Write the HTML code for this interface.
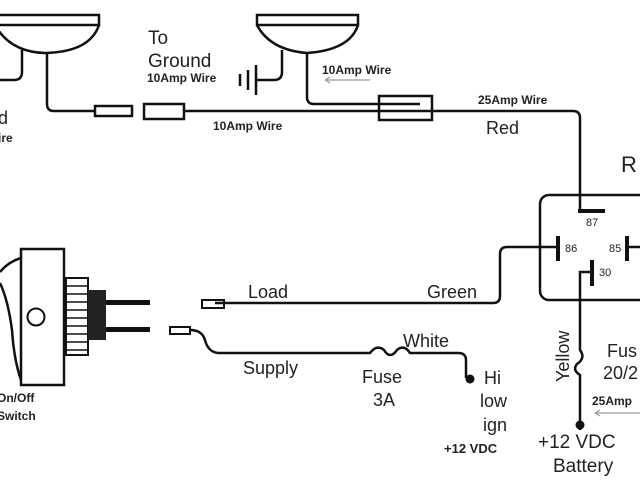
<!DOCTYPE html>
<html><head><style>
html,body{margin:0;padding:0;background:#fff;}
svg{display:block;}
text{font-family:"Liberation Sans",sans-serif;fill:#222;}
.b{font-weight:bold;font-size:12px;}
.m{font-size:18px;}
</style></head><body>
<svg width="640" height="480" viewBox="0 0 640 480" xmlns="http://www.w3.org/2000/svg">
<g fill="none" stroke="#111" stroke-width="2.5">
<!-- left lamp -->
<rect x="-5" y="15" width="104" height="10"/>
<path d="M-5 25 Q10 52 45 53 Q90 52 99 25"/>
<path d="M22 50 V72 Q22 80 14 80 H0"/>
<path d="M47 53 V104 Q47 111 54 111 H95"/>
<rect x="95" y="106" width="37" height="10"/>
<rect x="144" y="104" width="40" height="15"/>
<!-- right lamp -->
<rect x="257" y="15" width="101" height="10"/>
<path d="M257 25 Q270 50 307 53 Q350 50 358 25"/>
<path d="M282 50 V72 Q282 80 274 80 H256"/>
<path d="M307 53 V97 Q307 104 314 104 H420"/>
<rect x="379" y="96" width="53" height="24"/>
<path d="M184 111 H573 Q580 111 580 118 V211"/>
<!-- relay -->
<rect x="540" y="195" width="110" height="105" rx="9"/>
<path d="M215 303 H493 Q500 303 500 296 V254 Q500 247 507 247 H556"/>
<path d="M580 430 V375 Q572 370 577 364 Q586 358 580 350 V272 H590"/>
<path d="M627 247 H645"/>
<!-- supply -->
<path d="M190 330 Q202 330 205 340 Q208 352 218 353 H370 Q377 344 384 350 Q390 360 397 350 Q404 344 410 353 H458 Q466 353 466 360 V378"/>
<!-- switch -->
<rect x="21" y="249" width="43" height="136"/>
<path d="M21 258 Q8 262 0 272"/>
<path d="M0 283 Q8 300 12 330 Q14 360 21 380"/>
<circle cx="36" cy="317" r="8.5" stroke-width="2"/>
<rect x="66" y="278" width="22" height="77" stroke-width="2"/>
<rect x="202" y="300" width="22" height="8" stroke-width="2"/>
<rect x="170" y="327" width="20" height="7" stroke-width="2"/>
</g>
<g stroke="#111" stroke-width="1.5">
<path d="M66 286 H88 M66 294 H88 M66 302 H88 M66 310 H88 M66 318 H88 M66 326 H88 M66 334 H88 M66 342 H88 M66 350 H88"/>
</g>
<rect x="88" y="290" width="18" height="50" fill="#222"/>
<rect x="106" y="300" width="44" height="5" fill="#111"/>
<rect x="106" y="327" width="44" height="5" fill="#111"/>
<!-- ground symbol -->
<g stroke="#111" stroke-width="2.5">
<path d="M256 65 V95 M248 70 V90 M240 74 V86"/>
<path d="M578 211 H605" stroke-width="4"/>
<path d="M558 236 V261 M627 236 V261 M592 260 V286" stroke-width="4"/>
<path d="M388 104 H420" stroke-width="1.5"/>
</g>
<circle cx="470" cy="379" r="4.5" fill="#111"/>
<circle cx="580" cy="425" r="4.5" fill="#111"/>
<g stroke="#999" stroke-width="1.2">
<path d="M325 80 H370"/><path d="M325 80 l5 -3 M325 80 l5 3"/>
<path d="M595 413 H640"/><path d="M595 413 l5 -3 M595 413 l5 3"/>
</g>
<!-- texts -->
<text x="148" y="44" font-size="19">To</text>
<text x="148" y="67" font-size="19">Ground</text>
<text x="147" y="82" class="b">10Amp Wire</text>
<text x="322" y="74" class="b">10Amp Wire</text>
<text x="213" y="130" class="b">10Amp Wire</text>
<text x="478" y="104" class="b">25Amp Wire</text>
<text x="486" y="134" class="m">Red</text>
<text x="621" y="172" font-size="22">R</text>
<text x="586" y="226" font-size="11">87</text>
<text x="565" y="252" font-size="11">86</text>
<text x="609" y="252" font-size="11">85</text>
<text x="599" y="276" font-size="11">30</text>
<text x="-2" y="124" font-size="18">d</text>
<text x="-2" y="142" class="b">ire</text>
<text x="248" y="298" class="m">Load</text>
<text x="427" y="298" class="m">Green</text>
<text x="243" y="374" class="m">Supply</text>
<text x="403" y="347" class="m">White</text>
<text x="362" y="383" class="m">Fuse</text>
<text x="373" y="406" class="m">3A</text>
<text x="484" y="384" class="m">Hi</text>
<text x="480" y="407" class="m">low</text>
<text x="483" y="431" class="m">ign</text>
<text x="444" y="453" class="b" font-size="13" style="font-size:13px">+12 VDC</text>
<text x="0" y="0" class="m" transform="translate(569,382) rotate(-90)">Yellow</text>
<text x="607" y="357" class="m">Fus</text>
<text x="603" y="379" class="m">20/2</text>
<text x="592" y="405" class="b">25Amp</text>
<text x="538" y="448" font-size="19">+12 VDC</text>
<text x="553" y="472" font-size="19">Battery</text>
<text x="-3" y="378" class="b" transform="translate(0,24)">On/Off</text>
<text x="-3" y="420" class="b">Switch</text>
</svg>
</body></html>
